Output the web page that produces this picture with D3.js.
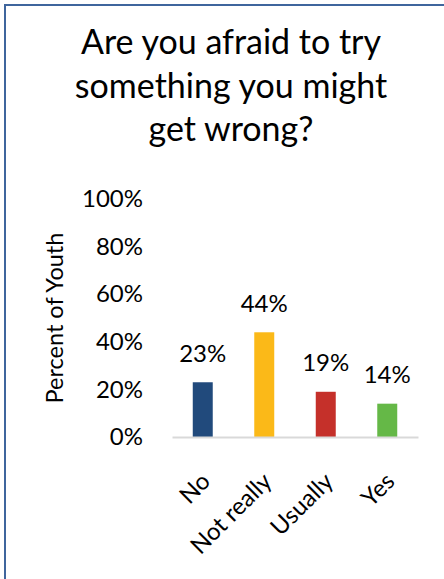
<!DOCTYPE html>
<html><head><meta charset="utf-8">
<script src="https://cdn.jsdelivr.net/npm/d3@7"></script>
<style>html,body{margin:0;padding:0;background:#fff;}svg{display:block;}</style>
</head><body>
<svg id="c" width="444" height="579"></svg>
<script>
const categories = ["No", "Not really", "Usually", "Yes"];
const values = [23, 44, 19, 14];
const colors = ["#214a7c", "#fbb918", "#c5302a", "#65b847"];
const yTicks = [0, 20, 40, 60, 80, 100];
const titleLines = ["Are you afraid to try", "something you might", "get wrong?"];
const yTitle = "Percent of Youth";

const svg = d3.select("#c");
const font = "Lato, 'Open Sans', sans-serif";

// border
svg.append("line").attr("x1", 5).attr("x2", 5).attr("y1", 4).attr("y2", 579)
  .attr("stroke", "#3f659d").attr("stroke-width", 2);
svg.append("line").attr("x1", 4).attr("x2", 444).attr("y1", 5).attr("y2", 5)
  .attr("stroke", "#3f659d").attr("stroke-width", 2);

// title
svg.append("g").selectAll("text").data(titleLines).join("text")
  .attr("x", 231).attr("y", (d, i) => 54 + i * 43.5)
  .attr("text-anchor", "middle").attr("font-family", font).attr("font-size", 34)
  .attr("fill", "#000").text(d => d);

const x = d3.scaleBand().domain(categories).range([172, 418]).paddingInner(0.675).paddingOuter(0.3375);
const y = d3.scaleLinear().domain([0, 100]).range([437, 199]);

// y axis labels
const yAxis = d3.axisLeft(y).tickValues(yTicks).tickFormat(d => d + "%").tickSize(0).tickPadding(0);
const gy = svg.append("g").attr("transform", "translate(143,0)").call(yAxis);
gy.select(".domain").remove();
gy.selectAll("text").attr("font-family", font).attr("font-size", 24).attr("fill", "#000");

// bars
svg.append("g").selectAll("rect").data(values).join("rect")
  .attr("x", (d, i) => x(categories[i])).attr("width", x.bandwidth())
  .attr("y", d => y(d)).attr("height", d => y(0) - y(d))
  .attr("fill", (d, i) => colors[i]);

// baseline + category labels
const xAxis = d3.axisBottom(x).tickSize(0).tickPadding(0);
const gx = svg.append("g").attr("transform", `translate(0,${y(0)})`).call(xAxis);
gx.select(".domain").attr("stroke", "#d9d9d9").attr("stroke-width", 2);
gx.selectAll("text")
  .attr("font-family", font).attr("font-size", 24).attr("fill", "#000")
  .attr("text-anchor", "end")
  .attr("transform", `translate(3,40) rotate(-45)`)
  .attr("x", 0).attr("y", 0).attr("dy", "0.35em");

// data labels
svg.append("g").selectAll("text").data(values).join("text")
  .attr("x", (d, i) => x(categories[i]) + x.bandwidth() / 2)
  .attr("y", d => y(d) - 20.5)
  .attr("text-anchor", "middle").attr("font-family", font).attr("font-size", 24)
  .attr("fill", "#000").text(d => d + "%");

// y title
svg.append("text").attr("transform", "translate(63,318) rotate(-90)")
  .attr("text-anchor", "middle").attr("font-family", font).attr("font-size", 23.5)
  .attr("fill", "#000").text(yTitle);
</script>
</body></html>
